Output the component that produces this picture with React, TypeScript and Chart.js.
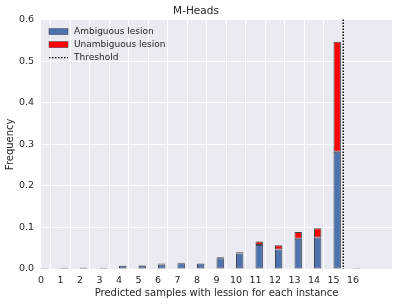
import React, { useEffect, useRef } from "react";
import { Chart, registerables } from "chart.js";

Chart.register(...registerables);

const titleText = "M-Heads";
const xLabel = "Predicted samples with lession for each instance";
const yLabel = "Frequency";
const categories = [0, 1, 2, 3, 4, 5, 6, 7, 8, 9, 10, 11, 12, 13, 14, 15, 16];
const ambiguous = [0.002, 0.001, 0.003, 0.003, 0.008, 0.008, 0.011, 0.014, 0.013, 0.026, 0.037, 0.058, 0.047, 0.073, 0.076, 0.282, 0.002];
const unambiguous = [0.0005, 0.002, 0.0005, 0.0003, 0.0005, 0.001, 0.002, 0.001, 0.0005, 0.002, 0.003, 0.008, 0.010, 0.016, 0.022, 0.265, 0.0002];
const threshold = 15.5;
const xMax = 18;
const yTicks = [0, 0.1, 0.2, 0.3, 0.4, 0.5, 0.6];
const legendLabels = ["Ambiguous lesion", "Unambiguous lesion", "Threshold"];

const BAR_W = 0.38;
const BLUE = "#4C72B0";
const RED = "#FF0000";
const TXT = "#262626";
const FONT = "'DejaVu Sans', sans-serif";
const EDGE = "rgba(40,40,50,0.85)";

export default function App() {
  const ref = useRef<HTMLCanvasElement>(null);
  useEffect(() => {
    document.body.style.margin = "0";
    const canvas = ref.current!;
    const thresholdPlugin = {
      id: "thresholdLine",
      afterDatasetsDraw(chart: any) {
        const { ctx, chartArea, scales } = chart;
        const x = scales.x.getPixelForValue(threshold);
        ctx.save();
        ctx.strokeStyle = "#000";
        ctx.lineWidth = 1.5;
        ctx.setLineDash([1.5, 1.5]);
        ctx.beginPath();
        ctx.moveTo(x, chartArea.top);
        ctx.lineTo(x, chartArea.bottom);
        ctx.stroke();
        ctx.restore();
      },
      afterDraw(chart: any) {
        const { ctx, chartArea } = chart;
        ctx.save();
        const x0 = chartArea.left + 8;
        const y0 = chartArea.top + 12;
        const rowH = 13;
        ctx.font = `9px ${FONT}`;
        ctx.textBaseline = "middle";
        legendLabels.forEach((lab, i) => {
          const y = y0 + i * rowH;
          if (i < 2) {
            ctx.fillStyle = i === 0 ? BLUE : RED;
            ctx.fillRect(x0, y - 3, 19, 6);
            ctx.strokeStyle = "rgba(40,40,40,0.7)";
            ctx.lineWidth = 0.6;
            ctx.strokeRect(x0, y - 3, 19, 6);
          } else {
            ctx.strokeStyle = "#000";
            ctx.lineWidth = 1.3;
            ctx.setLineDash([1.5, 1.5]);
            ctx.beginPath();
            ctx.moveTo(x0, y);
            ctx.lineTo(x0 + 19, y);
            ctx.stroke();
            ctx.setLineDash([]);
          }
          ctx.fillStyle = TXT;
          ctx.fillText(lab, x0 + 25, y);
        });
        ctx.restore();
      },
    };
    const bgPlugin = {
      id: "bg",
      beforeDraw(chart: any) {
        const { ctx, chartArea } = chart;
        ctx.save();
        ctx.fillStyle = "#EAEAF2";
        ctx.fillRect(chartArea.left, chartArea.top, chartArea.right - chartArea.left, chartArea.bottom - chartArea.top);
        ctx.restore();
      },
    };
    const common = {
      borderColor: EDGE,
      borderWidth: 1,
      borderSkipped: false,
      barPercentage: BAR_W,
      categoryPercentage: 1,
    };
    const chart = new Chart(canvas, {
      type: "bar",
      data: {
        datasets: [
          {
            label: legendLabels[0],
            data: categories.map((c, i) => ({ x: c + BAR_W / 2, y: ambiguous[i] })),
            backgroundColor: BLUE,
            ...common,
          },
          {
            label: legendLabels[1],
            data: categories.map((c, i) => ({ x: c + BAR_W / 2, y: unambiguous[i] })),
            backgroundColor: RED,
            ...common,
          },
        ],
      },
      options: {
        responsive: false,
        animation: false,
        layout: { padding: { left: 0, right: 6, top: 0, bottom: 0 } },
        plugins: {
          legend: { display: false },
          tooltip: { enabled: false },
          title: {
            display: true,
            text: titleText,
            color: TXT,
            font: { family: FONT, size: 10.5, weight: "normal" },
            padding: { top: 5, bottom: 2 },
          },
        },
        scales: {
          x: {
            type: "linear",
            stacked: true,
            min: 0,
            max: xMax,
            offset: false,
            border: { display: false },
            grid: {
              color: (c: any) => (c.tick && c.tick.value <= 16 ? "#FFFFFF" : "rgba(0,0,0,0)"),
              lineWidth: 1,
              drawTicks: false,
            },
            ticks: {
              stepSize: 1,
              autoSkip: false,
              maxRotation: 0,
              padding: 6,
              color: TXT,
              font: { family: FONT, size: 9.5 },
              callback: (v: any) => (Number(v) <= 16 && Number.isInteger(Number(v)) ? String(v) : ""),
            },
            title: {
              display: true,
              text: xLabel,
              color: TXT,
              font: { family: FONT, size: 10 },
              padding: { top: 2, bottom: 6 },
            },
            afterFit: (s: any) => {
              s.height = 36;
            },
          },
          y: {
            stacked: true,
            min: 0,
            max: 0.6,
            border: { display: false },
            grid: { color: "#FFFFFF", lineWidth: 1, drawTicks: false },
            afterBuildTicks: (s: any) => {
              s.ticks = yTicks.map((v) => ({ value: v }));
            },
            ticks: {
              padding: 7,
              color: TXT,
              font: { family: FONT, size: 9.5 },
              callback: (v: any) => Number(v).toFixed(1),
            },
            title: {
              display: true,
              text: yLabel,
              color: TXT,
              font: { family: FONT, size: 10 },
              padding: { top: 4, bottom: 2 },
            },
            afterFit: (s: any) => {
              s.width = 41;
            },
          },
        },
      },
      plugins: [bgPlugin, thresholdPlugin],
    } as any);
    return () => chart.destroy();
  }, []);
  return <canvas ref={ref} width={398} height={305} style={{ display: "block" }} />;
}
